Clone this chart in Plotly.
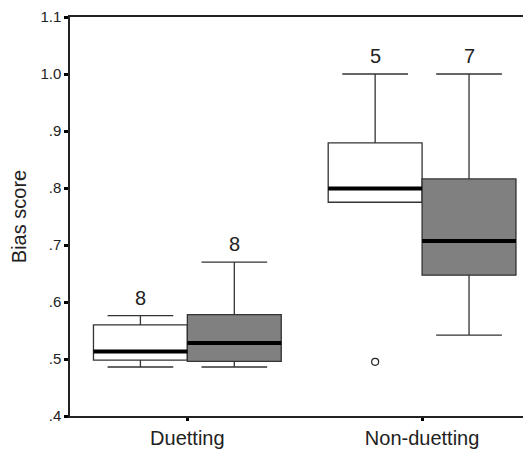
import plotly.graph_objects as go

categories = ["Duetting", "Non-duetting"]
counts_white = [8, 5]
counts_gray = [8, 7]

# white series
white_low = [0.486, 0.775]
white_q1 = [0.498, 0.775]
white_med = [0.513, 0.799]
white_q3 = [0.560, 0.879]
white_high = [0.576, 1.000]

# gray series
gray_low = [0.486, 0.542]
gray_q1 = [0.496, 0.647]
gray_med = [0.528, 0.707]
gray_q3 = [0.578, 0.816]
gray_high = [0.670, 1.000]

# outliers (category index, value) for white series
white_out_cat = [1]
white_out_val = [0.495]

y_ticks = [0.4, 0.5, 0.6, 0.7, 0.8, 0.9, 1.0, 1.1]
y_ticktext = [".4", ".5", ".6", ".7", ".8", ".9", "1.0", "1.1"]

OFF = 0.2
W = 0.4
FONT = "Liberation Sans, Arial, sans-serif"

fig = go.Figure()
xw = [i - OFF for i in range(len(categories))]
xg = [i + OFF for i in range(len(categories))]

fig.add_trace(go.Box(
    x=xw, q1=white_q1, median=white_med, q3=white_q3,
    lowerfence=white_low, upperfence=white_high,
    width=W, whiskerwidth=0.7, fillcolor="white",
    line=dict(color="#333333", width=1.3), boxpoints=False,
    showlegend=False, hoverinfo="skip"))
fig.add_trace(go.Box(
    x=xg, q1=gray_q1, median=gray_med, q3=gray_q3,
    lowerfence=gray_low, upperfence=gray_high,
    width=W, whiskerwidth=0.7, fillcolor="#808080",
    line=dict(color="#333333", width=1.3), boxpoints=False,
    showlegend=False, hoverinfo="skip"))

# thick median lines
mx, my = [], []
for xs, meds in ((xw, white_med), (xg, gray_med)):
    for x, m in zip(xs, meds):
        mx += [x - W / 2, x + W / 2, None]
        my += [m, m, None]
fig.add_trace(go.Scatter(x=mx, y=my, mode="lines",
                         line=dict(color="black", width=4),
                         showlegend=False, hoverinfo="skip"))

# outliers
fig.add_trace(go.Scatter(
    x=[c - OFF for c in white_out_cat], y=white_out_val, mode="markers",
    marker=dict(symbol="circle-open", size=7, color="#222222",
                line=dict(width=1.2)),
    showlegend=False, hoverinfo="skip"))

# count labels
for xs, highs, cnts in ((xw, white_high, counts_white), (xg, gray_high, counts_gray)):
    for x, h, c in zip(xs, highs, cnts):
        fig.add_annotation(x=x, y=h, text=str(c), showarrow=False,
                           yanchor="bottom", yshift=5,
                           font=dict(family=FONT, size=20, color="#222222"))

fig.update_layout(
    width=523, height=443,
    margin=dict(l=62, r=0, t=9, b=35),
    paper_bgcolor="white", plot_bgcolor="white",
    font=dict(family=FONT, color="#222222"),
)
fig.update_xaxes(
    range=[-0.5, 1.464], tickvals=list(range(len(categories))), ticktext=categories,
    showline=True, linecolor="#222222", linewidth=1.5, mirror=True,
    ticks="outside", ticklen=3, tickwidth=3, tickcolor="black",
    showgrid=False, zeroline=False,
    tickfont=dict(family=FONT, size=20, color="#222222"))
fig.update_yaxes(
    range=[0.4, 1.1], tickvals=y_ticks, ticktext=y_ticktext,
    showline=True, linecolor="#222222", linewidth=1.5,
    ticks="outside", ticklen=4, tickwidth=3, tickcolor="black",
    showgrid=False, zeroline=False,
    tickfont=dict(family=FONT, size=15, color="#222222"),
    title=dict(text="Bias score", standoff=8,
               font=dict(family=FONT, size=20, color="#222222")))

fig.write_html("out.html")
